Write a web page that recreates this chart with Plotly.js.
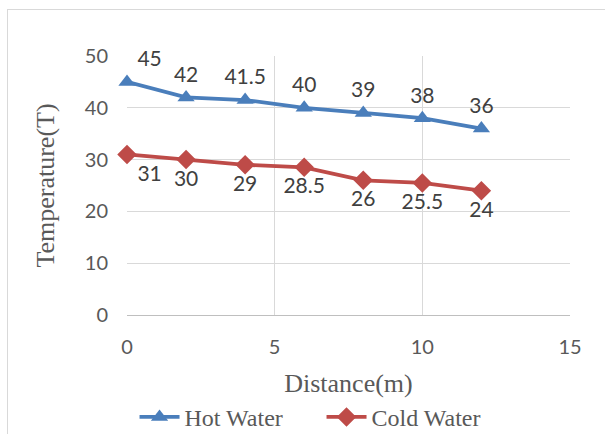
<!DOCTYPE html>
<html><head><meta charset="utf-8">
<script src="https://cdn.plot.ly/plotly-3.0.1.min.js"></script>
<style>
html,body{margin:0;padding:0;overflow:hidden;background:#fff;}
#wrap{position:relative;width:605px;height:434px;}
#chart{width:605px;height:434px;}
#frame{position:absolute;left:7px;top:9px;width:700px;height:600px;border:1px solid #d9d9d9;pointer-events:none;}
</style></head>
<body>
<div id="wrap"><div id="chart"></div><div id="frame"></div></div>
<script>
const distance = [0, 2, 4, 6, 8, 10, 12];
const hotWater = [45, 42, 41.5, 40, 39, 38, 36];
const coldWater = [31, 30, 29, 28.5, 26, 25.5, 24];
const hotLabels = ["45", "42", "41.5", "40", "39", "38", "36"];
const coldLabels = ["31", "30", "29", "28.5", "26", "25.5", "24"];

const sans = "Lato, 'Open Sans', sans-serif";
const serif = "'Liberation Serif', 'Times New Roman', serif";
function labelFont() { return {family: sans, size: 21, color: "#404040"}; }
function legendFont() { return {family: serif, size: 24, color: "#595959"}; }

const traces = [
  {
    x: distance, y: hotWater, name: "Hot Water", type: "scatter", mode: "lines+markers+text",
    line: {color: "#4A7EBB", width: 3.8},
    marker: {symbol: "triangle-up", size: 15, color: "#4A7EBB"},
    text: hotLabels,
    textposition: ["top right", "top center", "top center", "top center", "top center", "top center", "top center"],
    textfont: labelFont(), cliponaxis: false
  },
  {
    x: distance, y: coldWater, name: "Cold Water", type: "scatter", mode: "lines+markers+text",
    line: {color: "#BE4B48", width: 3.8},
    marker: {symbol: "diamond", size: 15, color: "#BE4B48"},
    text: coldLabels,
    textposition: ["bottom right", "bottom center", "bottom center", "bottom center", "bottom center", "bottom center", "bottom center"],
    textfont: labelFont(), cliponaxis: false
  }
];

const layout = {
  width: 605, height: 434,
  font: legendFont(),
  margin: {l: 127, r: 35, t: 56, b: 119, autoexpand: false},
  paper_bgcolor: "rgba(0,0,0,0)", plot_bgcolor: "#fff",
  showlegend: true,
  legend: {orientation: "h", x: 0.017, xanchor: "left", y: -0.395, yanchor: "middle",
    font: legendFont(), itemwidth: 40, entrywidth: 132, entrywidthmode: "pixels", traceorder: "normal"},
  xaxis: {
    range: [0, 15], dtick: 5, tick0: 0, showgrid: true, gridcolor: "#d9d9d9", gridwidth: 1.3,
    zeroline: false, showline: true, linecolor: "#bfbfbf", linewidth: 1.3, mirror: false,
    ticks: "", ticklabelstandoff: 14,
    tickfont: {family: sans, size: 20, color: "#595959"},
    title: {text: "Distance(m)", font: {family: serif, size: 26, color: "#595959"}, standoff: 16}
  },
  yaxis: {
    range: [0, 50], dtick: 10, tick0: 0, showgrid: true, gridcolor: "#d9d9d9", gridwidth: 1.3,
    zeroline: false, showline: false, ticks: "", ticklabelstandoff: 18,
    tickfont: {family: sans, size: 20, color: "#595959"},
    title: {text: "Temperature(T)", font: {family: serif, size: 26, color: "#595959"}, standoff: 22}
  }
};

Plotly.newPlot("chart", traces, layout, {displayModeBar: false, staticPlot: true});
</script>
</body></html>
